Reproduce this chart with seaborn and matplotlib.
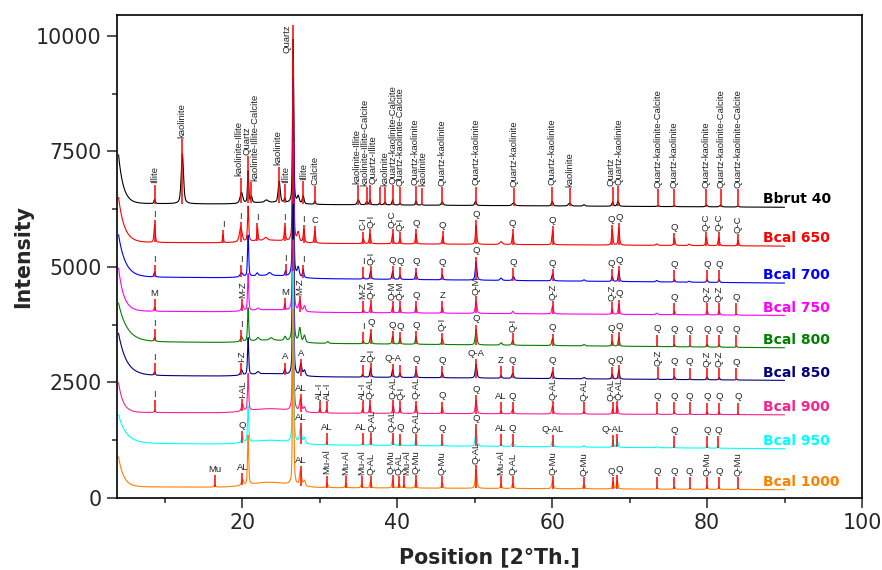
import numpy as np
import pandas as pd
import matplotlib
matplotlib.use("Agg")
import matplotlib.pyplot as plt
import seaborn as sns
from matplotlib.ticker import MultipleLocator

# ---------------------------------------------------------------- data
samples = ["Bbrut 40", "Bcal 650", "Bcal 700", "Bcal 750", "Bcal 800",
           "Bcal 850", "Bcal 900", "Bcal 950", "Bcal 1000"]
colors = ["#000000", "#FF0000", "#0000FF", "#FF00FF", "#008000",
          "#000080", "#F7228C", "#00FFFF", "#FF8000"]

# background level of every pattern near 8 and near 90 degrees 2-theta
base_left = [6370, 5530, 4780, 4040, 3380, 2650, 1850, 1180, 240]
base_right = [6290, 5450, 4650, 3950, 3250, 2545, 1800, 1065, 180]
# low-angle scatter: excess counts at 4 deg and its decay length (deg)
rise = [1050, 970, 910, 930, 830, 910, 640, 615, 650]
rise_decay = [0.62, 0.74, 0.87, 0.68, 1.1, 1.0, 0.6, 1.0, 0.65]
# broad amorphous hump around 23 deg
hump = [40, 60, 60, 50, 60, 60, 90, 90, 110]

# reflections: (2-theta, net height, FWHM, phase label)
# label None -> no marker, "" -> marker without text
peaks_bbrut = [
    (8.66, 90, 0.2, "Illite"), (12.24, 1080, 0.35, "kaolinite"),
    (19.87, 240, 0.4, "kaolinite-Illite"), (20.73, 690, 0.18, "Quartz"),
    (21.16, 130, 0.25, "kaolinite-Illite-Calcite"), (23.1, 50, 0.5, None),
    (24.74, 460, 0.3, "kaolinite"), (25.47, 90, 0.2, "Illite"),
    (26.55, 3550, 0.18, "Quartz"), (27.2, 150, 0.3, None),
    (27.84, 170, 0.25, "Illite"), (29.35, 70, 0.2, "Calcite"),
    (34.95, 110, 0.3, "kaolinite-Illite"),
    (36.03, 65, 0.2, "kaolinite-Illite-Calcite"),
    (36.46, 110, 0.2, "Quartz-Illite"), (37.7, 40, 0.2, ""),
    (38.4, 60, 0.25, "kaolinite"),
    (39.39, 110, 0.2, "Quartz-kaolinite-Calcite"),
    (40.34, 40, 0.2, "Quartz-kaolinite-Calcite"),
    (42.41, 90, 0.2, "Quartz-kaolinite"), (43.15, 20, 0.2, "kaolinite"),
    (45.8, 70, 0.3, "Quartz-kaolinite"), (50.1, 90, 0.25, "Quartz-kaolinite"),
    (55.0, 60, 0.4, "Quartz-kaolinite"), (60.0, 100, 0.25, "Quartz-kaolinite"),
    (62.24, 60, 0.4, "kaolinite"), (64.1, 30, 0.3, None),
    (67.8, 90, 0.25, "Quartz"), (68.5, 110, 0.25, "Quartz-kaolinite"),
    (73.67, 20, 0.3, "Quartz-kaolinite-Calcite"),
    (75.78, 20, 0.3, "Quartz-kaolinite"), (79.92, 40, 0.3, "Quartz-kaolinite"),
    (81.73, 40, 0.3, "Quartz-kaolinite-Calcite"),
    (83.97, 20, 0.3, "Quartz-kaolinite-Calcite"),
]
peaks_650 = [
    (8.66, 380, 0.2, "I"), (17.49, 170, 0.15, "I"), (19.78, 320, 0.4, "I"),
    (20.73, 760, 0.18, None), (21.94, 280, 0.15, "I"), (23.0, 60, 0.5, None),
    (25.47, 280, 0.2, "I"), (26.55, 3900, 0.18, None), (27.2, 200, 0.3, None),
    (27.93, 280, 0.2, "I"), (29.35, 260, 0.2, "C"), (35.6, 110, 0.2, "C-I"),
    (36.46, 210, 0.2, "Q-I"), (39.39, 210, 0.2, "Q-C"), (40.34, 110, 0.2, "Q-I"),
    (42.41, 210, 0.2, "Q"), (45.86, 170, 0.2, "Q"), (50.17, 410, 0.2, "Q"),
    (53.4, 60, 0.4, None), (54.9, 220, 0.2, "Q"), (60.04, 300, 0.2, "Q"),
    (67.75, 330, 0.2, "Q"), (68.6, 370, 0.2, "Q"), (73.5, 30, 0.3, None),
    (75.78, 150, 0.2, "Q"), (77.7, 30, 0.3, None), (79.9, 190, 0.2, "Q-C"),
    (81.5, 190, 0.2, "Q-C"), (84.0, 120, 0.2, "Q-C"),
]
peaks_700 = [
    (8.66, 110, 0.2, "I"), (19.87, 90, 0.4, "I"), (20.73, 890, 0.18, None),
    (21.9, 60, 0.3, None), (23.5, 60, 0.5, None), (25.56, 110, 0.2, "I"),
    (26.55, 4300, 0.18, None), (27.2, 200, 0.3, None), (27.84, 170, 0.2, "I"),
    (35.6, 40, 0.2, "I"), (36.55, 180, 0.2, "Q-I"), (39.39, 170, 0.2, "Q"),
    (40.34, 90, 0.2, "Q"), (42.41, 150, 0.2, "Q"), (45.8, 110, 0.2, "Q"),
    (50.17, 400, 0.25, "Q"), (53.4, 50, 0.3, None), (54.99, 90, 0.25, "Q"),
    (60.04, 150, 0.25, "Q"), (64.1, 30, 0.3, None), (67.75, 110, 0.2, "Q"),
    (68.6, 220, 0.2, "Q"), (73.5, 30, 0.3, None), (75.78, 50, 0.2, "Q"),
    (77.7, 20, 0.3, None), (80.0, 60, 0.2, "Q"), (81.55, 60, 0.2, "Q"),
]
peaks_750 = [
    (8.66, 90, 0.2, "M"), (20.0, 130, 0.3, "M-Z"), (20.73, 800, 0.18, None),
    (22.0, 40, 0.4, None), (25.47, 130, 0.2, "M"), (26.55, 3650, 0.18, None),
    (27.4, 220, 0.3, "M-Z"), (28.0, 120, 0.3, None), (35.6, 60, 0.2, "M-Z"),
    (36.55, 170, 0.2, "Q-M"), (39.39, 130, 0.2, "Q-M"), (40.34, 110, 0.2, "Q-M"),
    (42.41, 130, 0.2, "Q"), (45.8, 130, 0.2, "Z"), (50.17, 260, 0.25, "Q-M"),
    (54.9, 50, 0.25, None), (60.04, 170, 0.25, "Q-Z"), (67.75, 110, 0.2, "Q-Z"),
    (68.6, 210, 0.2, "Q"), (73.5, 30, 0.3, None), (75.78, 80, 0.2, "Q"),
    (80.0, 90, 0.2, "Q-Z"), (81.55, 90, 0.2, "Q-Z"), (83.79, 20, 0.2, "Q"),
]
peaks_800 = [
    (8.66, 90, 0.2, "I"), (19.87, 110, 0.3, "I"), (20.73, 720, 0.18, None),
    (22.0, 60, 0.4, None), (23.7, 50, 0.5, None), (25.5, 90, 0.3, None),
    (26.55, 3700, 0.18, None), (27.4, 300, 0.3, None), (28.0, 150, 0.3, None),
    (31.0, 40, 0.3, None), (35.6, 60, 0.2, "I"), (36.55, 220, 0.2, "Q"),
    (39.39, 170, 0.2, "Q"), (40.34, 130, 0.2, "Q"), (42.41, 170, 0.2, "Q"),
    (45.8, 130, 0.2, "Q-I"), (50.17, 330, 0.25, "Q"), (53.4, 50, 0.3, None),
    (54.9, 100, 0.25, "Q-I"), (60.04, 150, 0.25, "Q"), (64.1, 30, 0.3, None),
    (67.75, 110, 0.2, "Q"), (68.6, 200, 0.2, "Q"), (73.54, 20, 0.2, "Q"),
    (75.78, 50, 0.2, "Q"), (77.75, 20, 0.2, "Q"), (80.0, 60, 0.2, "Q"),
    (81.55, 50, 0.2, "Q"), (83.79, 20, 0.2, "Q"),
]
peaks_850 = [
    (8.66, 70, 0.2, "I"), (19.87, 120, 0.3, "I-Z"), (20.73, 800, 0.18, None),
    (22.0, 50, 0.4, None), (25.47, 110, 0.2, "A"), (26.55, 3700, 0.18, None),
    (27.54, 250, 0.3, "A"), (28.0, 120, 0.3, None), (35.52, 60, 0.2, "Z"),
    (36.55, 200, 0.2, "Q-I"), (39.39, 170, 0.2, "Q-A"), (40.34, 90, 0.2, ""),
    (42.41, 150, 0.2, "Q"), (45.8, 110, 0.2, "Q"), (50.17, 300, 0.25, "Q-A"),
    (53.4, 60, 0.2, "Z"), (54.9, 110, 0.25, "Q"), (60.04, 150, 0.25, "Q"),
    (64.1, 30, 0.3, None), (67.75, 110, 0.2, "Q"), (68.6, 200, 0.2, "Q"),
    (73.6, 20, 0.2, "Q-Z"), (75.78, 60, 0.2, "Q"), (77.75, 20, 0.2, "Q"),
    (80.0, 60, 0.2, "Q-Z"), (81.55, 50, 0.2, "Q-Z"), (83.79, 20, 0.2, "Q"),
]
peaks_900 = [
    (8.66, 40, 0.2, "I"), (20.0, 150, 0.3, "I-AL"), (20.73, 800, 0.18, None),
    (26.55, 3700, 0.18, None), (27.5, 280, 0.3, "AL"), (28.0, 100, 0.3, None),
    (30.0, 90, 0.2, "AL-I"), (30.86, 80, 0.2, "AL-I"), (35.52, 90, 0.2, "AL-I"),
    (36.46, 170, 0.2, "Q-AL"), (39.47, 170, 0.2, "Q-AL"), (40.34, 110, 0.2, "Q-I"),
    (42.41, 170, 0.2, "Q-AL"), (45.8, 130, 0.2, "Q"), (50.17, 290, 0.25, "Q"),
    (53.4, 60, 0.2, "AL"), (54.9, 100, 0.25, "Q"), (60.04, 170, 0.25, "Q-AL"),
    (64.1, 50, 0.3, "Q-AL"), (67.8, 110, 0.2, "Q-AL"), (68.4, 170, 0.2, "Q-AL"),
    (73.54, 20, 0.2, "Q"), (75.78, 50, 0.2, "Q"), (77.75, 20, 0.2, "Q"),
    (80.0, 60, 0.2, "Q"), (81.55, 50, 0.2, "Q"), (83.97, 20, 0.2, "Q"),
]
peaks_950 = [
    (20.0, 120, 0.3, "Q"), (20.73, 780, 0.18, None), (26.55, 3700, 0.18, None),
    (27.5, 330, 0.3, "AL"), (28.0, 120, 0.3, None), (30.86, 60, 0.2, "AL"),
    (35.52, 60, 0.2, "AL"), (36.55, 150, 0.2, "Q-AL"), (39.39, 150, 0.2, "Q-AL"),
    (40.34, 90, 0.2, "Q"), (42.41, 150, 0.2, "Q-AL"), (45.8, 110, 0.2, "Q"),
    (50.17, 360, 0.25, "Q"), (53.4, 60, 0.2, "AL"), (54.9, 100, 0.25, "Q"),
    (60.04, 130, 0.25, "Q-AL"), (64.1, 30, 0.3, None), (67.85, 150, 0.2, "Q-AL"),
    (68.4, 170, 0.2, ""), (73.5, 20, 0.3, None), (75.78, 50, 0.2, "Q"),
    (80.0, 60, 0.2, "Q"), (81.4, 50, 0.2, "Q"),
]
peaks_1000 = [
    (16.41, 60, 0.2, "Mu"), (20.0, 120, 0.3, "AL"), (20.73, 1070, 0.18, None),
    (26.55, 3800, 0.18, None), (27.5, 330, 0.3, "AL"), (28.0, 120, 0.3, None),
    (30.94, 100, 0.2, "Mu-Al"), (33.36, 100, 0.2, "Mu-Al"),
    (35.39, 90, 0.2, "Mu-Al"), (36.55, 150, 0.2, "Q-AL"),
    (39.39, 170, 0.2, "Q-Mu"), (40.25, 80, 0.2, "Q-AL"),
    (40.86, 70, 0.2, "Mu-Al"), (42.41, 170, 0.2, "Q-Mu"),
    (45.8, 120, 0.2, "Q-Mu"), (50.17, 400, 0.25, "Q-AL"),
    (53.4, 90, 0.2, "Mu-Al"), (54.9, 110, 0.25, "Q-AL"),
    (60.04, 170, 0.25, "Q-Mu"), (64.1, 90, 0.25, "Q-Mu"),
    (67.85, 150, 0.2, "Q"), (68.4, 190, 0.2, "Q"), (73.54, 30, 0.2, "Q"),
    (75.78, 50, 0.2, "Q"), (77.75, 20, 0.2, "Q"), (80.0, 70, 0.2, "Q-Mu"),
    (81.55, 50, 0.2, "Q"), (83.97, 30, 0.2, "Q-Mu"),
]
peak_tables = [peaks_bbrut, peaks_650, peaks_700, peaks_750, peaks_800,
               peaks_850, peaks_900, peaks_950, peaks_1000]

# composite labels that are written horizontally
upright = {("Bcal 850", 39.39), ("Bcal 850", 50.17),
           ("Bcal 950", 60.04), ("Bcal 950", 67.85)}

x_ticks = [20, 40, 60, 80, 100]
y_ticks = [0, 2500, 5000, 7500, 10000]


# ---------------------------------------------------------------- profiles
def background(x, i):
    lin = base_left[i] + (base_right[i] - base_left[i]) * (x - 8.0) / 82.0
    low = rise[i] * np.exp(-(x - 4.0) / rise_decay[i])
    amor = hump[i] * np.exp(-0.5 * ((x - 23.5) / 2.5) ** 2)
    return lin + low + amor


def reflections(x, table):
    y = np.zeros_like(x)
    for pos, h, w, _ in table:
        t = (x - pos) / (w / 2.0)
        y += h * (0.5 / (1.0 + t ** 2) + 0.5 * np.exp(-np.log(2) * t ** 2))
    return y


def spread(xs, halves, gap=0.05, n_iter=200):
    """Push neighbouring label anchors apart so their extents do not touch."""
    xs = list(xs)
    for _ in range(n_iter):
        moved = False
        for k in range(len(xs) - 1):
            need = halves[k] + halves[k + 1] + gap
            d = xs[k + 1] - xs[k]
            if d < need - 1e-6:
                shift = (need - d) / 2.0
                xs[k] -= shift
                xs[k + 1] += shift
                moved = True
        if not moved:
            break
    return xs


all_pos = sorted({p[0] for tab in peak_tables for p in tab})
two_theta = np.union1d(np.arange(4.0, 90.0001, 0.02), all_pos)

frames = []
for i, name in enumerate(samples):
    inten = background(two_theta, i) + reflections(two_theta, peak_tables[i])
    frames.append(pd.DataFrame({"two_theta": two_theta,
                                "intensity": inten, "sample": name}))
df = pd.concat(frames, ignore_index=True)

# ---------------------------------------------------------------- figure
sns.set_style("ticks")
plt.rcParams["font.family"] = ["DejaVu Sans"]

fig = plt.figure(figsize=(8.82, 5.70), dpi=100)
ax = fig.add_axes([117 / 882, 1 - 498 / 570, 745 / 882, 483 / 570])

sns.lineplot(data=df, x="two_theta", y="intensity", hue="sample",
             hue_order=samples, palette=colors, estimator=None, sort=False,
             legend=False, lw=0.8, ax=ax)

YMAX = 10450
LABEL_KW = dict(fontsize=6.8, color="#222222", family="Liberation Sans")
for i, name in enumerate(samples):
    first = i == 0
    pad, min_len = (320, 380) if first else (110, 260)
    marks = []
    for pos, h, w, lab in peak_tables[i]:
        if lab is None:
            continue
        b = background(np.array([pos]), i)[0]
        top = b + max(h + pad, min_len)
        ax.vlines(pos, b, top, color="#FF0000", lw=1.1, zorder=3)
        if lab:
            rot = 90 if (len(lab) > 2 and (name, pos) not in upright) else 0
            marks.append((pos, top, lab, rot))

    # regular labels sit on top of their marker; keep neighbours apart
    normal = [m for m in marks if m[1] <= 9500]
    halves = [0.48 if m[3] == 90 else 0.38 * len(m[2]) + 0.1 for m in normal]
    xs = spread([m[0] for m in normal], halves)
    for xt, (pos, top, lab, rot) in zip(xs, normal):
        ax.text(xt, top + 25, lab, rotation=rot, ha="center", va="bottom",
                **LABEL_KW)
    # a marker reaching the frame gets its label beside it
    for pos, top, lab, rot in [m for m in marks if m[1] > 9500]:
        ax.text(pos - 0.25, top, lab, rotation=rot, ha="right", va="top",
                **LABEL_KW)

    ax.text(87.2, base_right[i] + 170, name, color=colors[i],
            fontsize=10, fontweight="bold", ha="left", va="center")

ax.set_xlim(3.8, 100)
ax.set_ylim(0, YMAX)
ax.set_xticks(x_ticks)
ax.set_yticks(y_ticks)
ax.xaxis.set_minor_locator(MultipleLocator(10))
ax.yaxis.set_minor_locator(MultipleLocator(1250))
ax.tick_params(axis="both", which="major", direction="out", length=7,
               width=1.1, labelsize=14.8, pad=4, top=False, right=False)
ax.tick_params(axis="both", which="minor", direction="out", length=3.5,
               width=1.1, top=False, right=False)
for s in ax.spines.values():
    s.set_visible(True)
    s.set_linewidth(1.2)
    s.set_color("black")

ax.set_xlabel("Position [2°Th.]", fontsize=14.8, fontweight="bold")
ax.set_ylabel("Intensity", fontsize=14.8, fontweight="bold")
ax.xaxis.set_label_coords(0.5, -0.102)
ax.yaxis.set_label_coords(-0.112, 0.5)

fig.savefig("out.png", dpi=100)
